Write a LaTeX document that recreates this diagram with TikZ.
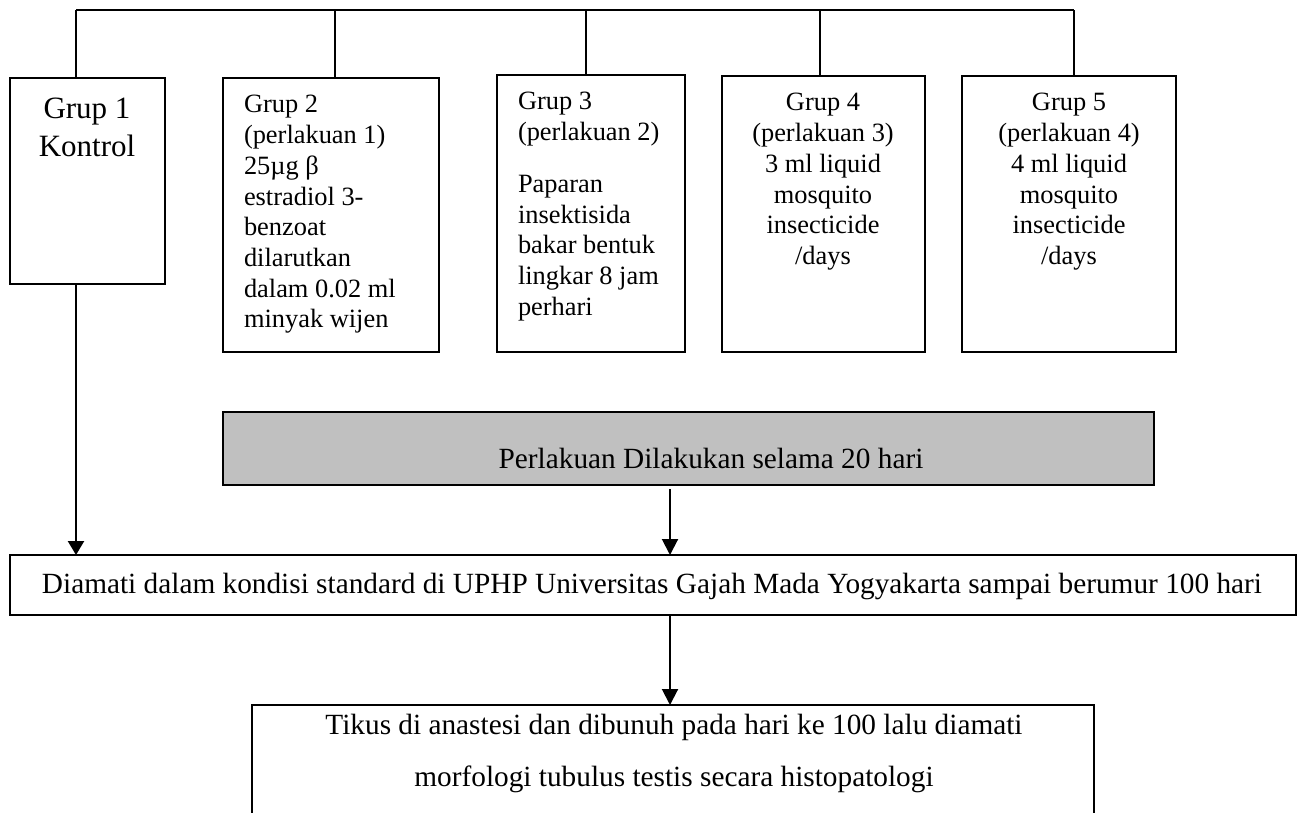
\documentclass[tikz,border=0pt]{standalone}
\usepackage{fontspec}
\setmainfont{Liberation Serif}
\usetikzlibrary{arrows.meta}
\definecolor{boxgray}{RGB}{192,192,192}
\tikzset{
  box/.style={draw, line width=1.3pt, inner sep=0pt, outer sep=0pt, anchor=north west},
  txt/.style={inner sep=0pt, outer sep=0pt, font=\fontsize{26.4pt}{30.7pt}\selectfont},
  big/.style={inner sep=0pt, outer sep=0pt, font=\fontsize{29.3pt}{52pt}\selectfont},
  conn/.style={line width=1.3pt},
  arr/.style={line width=2pt, -{Triangle[length=16pt,width=16pt]}},
}
\begin{document}
\begin{tikzpicture}[x=1pt,y=-1pt]
\useasboundingbox (0,0) rectangle (1302,812);
\clip (0,0) rectangle (1302,812);
\fill[white] (0,0) rectangle (1302,812);
% group boxes
\node[box, minimum width=155pt, minimum height=206pt] (g1) at (10,78) {};
\node[box, minimum width=216pt, minimum height=274pt] (g2) at (223,78) {};
\node[box, minimum width=188pt, minimum height=277pt] (g3) at (497,75) {};
\node[box, minimum width=203pt, minimum height=276pt] (g4) at (722,76) {};
\node[box, minimum width=214pt, minimum height=276pt] (g5) at (962,76) {};
\node[box, fill=boxgray, minimum width=931pt, minimum height=73pt] (gray) at (223,412) {};
\node[box, minimum width=1286pt, minimum height=60pt] (diam) at (10,555) {};
\node[box, minimum width=842pt, minimum height=140pt] (final) at (252,705) {};
% texts
\node[inner sep=0pt, font=\fontsize{31pt}{38pt}\selectfont, align=center, anchor=north] (t1) at (87,91.4) {\strut Grup 1\\Kontrol};
\node[txt, align=left, anchor=north west] (t2) at (244,91.5) {\strut Grup 2\\(perlakuan 1)\\25µg β\\estradiol 3-\\benzoat\\dilarutkan\\dalam 0.02 ml\\minyak wijen};
\node[txt, align=left, anchor=north west] (t3) at (518,88.5) {\strut Grup 3\\(perlakuan 2)\\[21pt]Paparan\\insektisida\\bakar bentuk\\lingkar 8 jam\\perhari};
\node[txt, align=center, anchor=north] (t4) at (823,89.5) {\strut Grup 4\\(perlakuan 3)\\3 ml liquid\\mosquito\\insecticide\\/days};
\node[txt, align=center, anchor=north] (t5) at (1069,89.5) {\strut Grup 5\\(perlakuan 4)\\4 ml liquid\\mosquito\\insecticide\\/days};
\node[big, anchor=base] (tg) at (711,468) {Perlakuan Dilakukan selama 20 hari};
\node[big, anchor=base] (td) at (652,593) {Diamati dalam kondisi standard di UPHP Universitas Gajah Mada Yogyakarta sampai berumur 100 hari};
\node[big, anchor=base] (tf1) at (674,734) {Tikus di anastesi dan dibunuh pada hari ke 100 lalu diamati};
\node[big, anchor=base] (tf2) at (674,786) {morfologi tubulus testis secara histopatologi};
% top bar
\coordinate (b1) at (76,10);
\coordinate (b2) at (335,10);
\coordinate (b3) at (586,10);
\coordinate (b4) at (820,10);
\coordinate (b5) at (1074,10);
\draw[conn] (b1) -- (b5);
\draw[conn] (b1) -- (b1 |- g1.north);
\draw[conn] (b2) -- (b2 |- g2.north);
\draw[conn] (b3) -- (b3 |- g3.north);
\draw[conn] (b4) -- (b4 |- g4.north);
\draw[conn] (b5) -- (b5 |- g5.north);
% arrows
\coordinate (c1) at (76,0);
\coordinate (c2) at (670,0);
\draw[arr, line width=2.4pt, -{Triangle[length=14pt,width=16pt]}] (c1 |- g1.south) -- (c1 |- diam.north);
\draw[arr] ([yshift=-4pt]c2 |- gray.south) -- (c2 |- diam.north);
\draw[arr] (c2 |- diam.south) -- (c2 |- final.north);
\end{tikzpicture}
\end{document}
